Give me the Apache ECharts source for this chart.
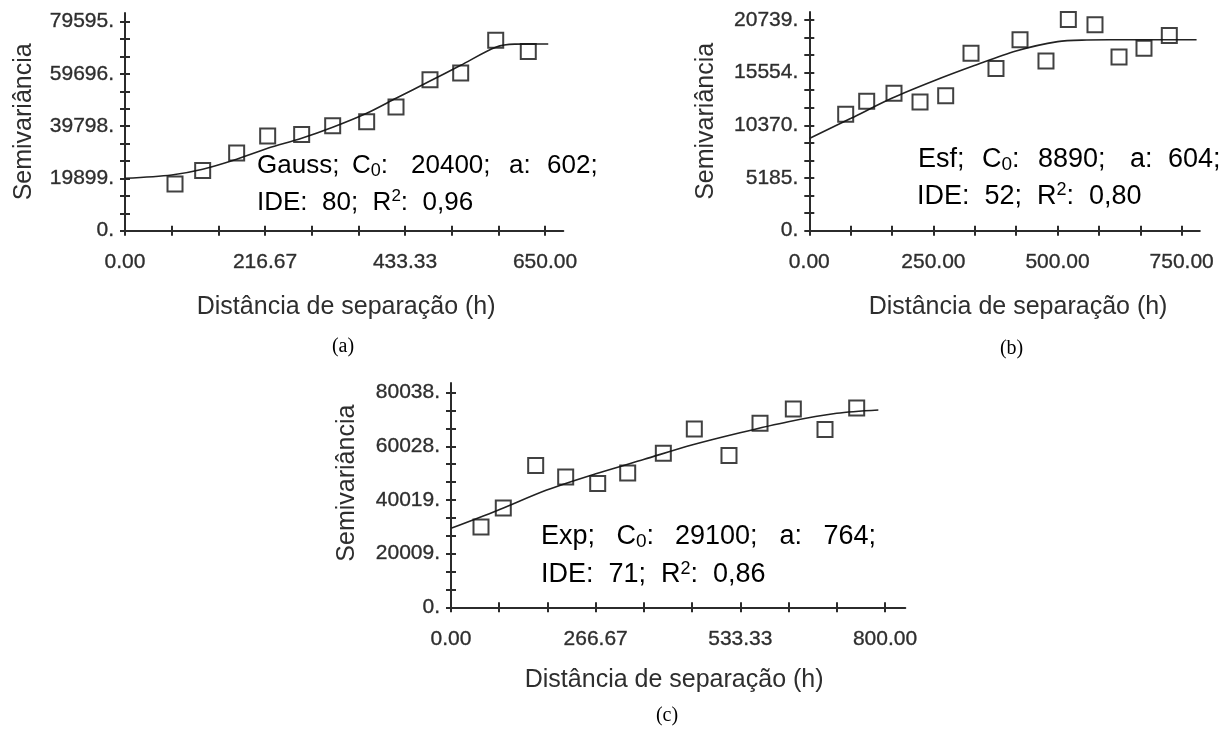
<!DOCTYPE html>
<html>
<head>
<meta charset="utf-8">
<script src="https://cdn.jsdelivr.net/npm/echarts@6/dist/echarts.min.js"></script>
<style>
html,body{margin:0;padding:0;background:#fff;}
#chart{width:1232px;height:731px;}
</style>
</head>
<body>
<div id="chart"></div>
<script>
// ---------- Data ----------
// Panel (a) Gauss
const hA = [77.4, 120.2, 172.8, 220.8, 273.4, 321.4, 374, 419.4, 472, 519.5, 573.7, 624.1];
const gA = [17800, 22950, 29600, 36100, 36600, 39950, 41500, 47150, 57500, 60100, 72500, 68200];
const curveAh = [0, 72.2, 120.2, 172.8, 220.8, 273.4, 321.4, 374, 419.4, 472, 519.5, 573.7, 603, 655];
const curveAg = [19956, 21212, 23383, 27192, 31381, 35189, 39378, 44710, 50420, 57000, 62990, 69850, 71050, 71100];
const xTicksA = [0, 216.667, 433.333, 650];
const xLabelsA = ['0.00', '216.67', '433.33', '650.00'];
const yTicksA = [0, 19898.75, 39797.5, 59696.25, 79595];
const yLabelsA = ['0.', '19899.', '39798.', '59696.', '79595.'];

// Panel (b) Esf
const hB = [73.3, 115.6, 170.6, 223, 274.7, 325.7, 376, 424.4, 476.7, 521.7, 575.4, 623.8, 674.1, 725.1];
const gB = [11450, 12740, 13520, 12660, 13290, 17460, 15970, 18790, 16700, 20800, 20280, 17100, 17960, 19220];
const curveBh = [0, 84, 166, 250, 332.4, 416.3, 500.3, 558.7, 604, 780];
const curveBg = [9080, 11060, 13030, 14730, 16250, 17690, 18610, 18770, 18790, 18790];
const xTicksB = [0, 250, 500, 750];
const xLabelsB = ['0.00', '250.00', '500.00', '750.00'];
const yTicksB = [0, 5184.75, 10369.5, 15554.25, 20739];
const yLabelsB = ['0.', '5185.', '10370.', '15554.', '20739.'];

// Panel (c) Exp
const hC = [55.3, 96.4, 156.1, 211.4, 270.4, 325.7, 391.4, 448.5, 512.4, 569.6, 631, 689.4, 747.8];
const gC = [29970, 37030, 52860, 48630, 46130, 50120, 57420, 66460, 56600, 68640, 73940, 66330, 74310];
const curveCh = [0, 84.2, 176.4, 265.4, 356.3, 443.7, 532.7, 621.8, 711, 787.7];
const curveCg = [29464, 36029, 43749, 49716, 55199, 60532, 65120, 69222, 72355, 73586];
const xTicksC = [0, 266.667, 533.333, 800];
const xLabelsC = ['0.00', '266.67', '533.33', '800.00'];
const yTicksC = [0, 20009.5, 40019, 60028.5, 80038];
const yLabelsC = ['0.', '20009.', '40019.', '60028.', '80038.'];

const xName = 'Distância de separação (h)';
const yName = 'Semivariância';

// ---------- Helpers ----------
const SANS = '"Liberation Sans", Arial, sans-serif';
const SERIF = '"Liberation Serif", "Times New Roman", serif';
const AX = '#2b2b2b';
const TXT = '#2e2e2e';

function zip(a, b) { return a.map((v, i) => [v, b[i]]); }
function withMinor(majors, div) {
  const out = [];
  for (let i = 0; i < majors.length; i++) {
    out.push(majors[i]);
    if (i < majors.length - 1) {
      const step = (majors[i + 1] - majors[i]) / div;
      for (let k = 1; k < div; k++) out.push(majors[i] + k * step);
    }
  }
  return out;
}
function labeler(ticks, labels) {
  return function (v) {
    let best = 0, bd = Infinity;
    ticks.forEach((t, i) => { const d = Math.abs(t - v); if (d < bd) { bd = d; best = i; } });
    return labels[best];
  };
}

const grids = [
  { left: 125, top: 13, width: 438.3, height: 217.7 },
  { left: 809.3, top: 12, width: 390.5, height: 218.7 },
  { left: 451, top: 383, width: 454.3, height: 224.3 }
];
const xMax = [678.3, 786.5, 837.4];
const yMax = [82908, 21526, 83656];
const xT = [xTicksA, xTicksB, xTicksC];
const xL = [xLabelsA, xLabelsB, xLabelsC];
const yT = [yTicksA, yTicksB, yTicksC];
const yL = [yLabelsA, yLabelsB, yLabelsC];
const xNameGap = [76, 76, 72.5];
const xNamePad = [[0, 0, 0, 4], [0, 0, 0, 27], [0, 8, 0, 0]];
const yNameGap = [101, 103, 104];
const yNamePad = [[0, 0, 0, 0], [0, 0, 0, 0], [0, 0, 0, 24]];

const xAxes = [], yAxes = [];
grids.forEach((g, i) => {
  const tickStyle = { color: AX, width: 2 };
  const labelStyle = { fontSize: 21, color: TXT, fontFamily: SANS, textBorderColor: '#555', textBorderWidth: 0.4 };
  const xAll = withMinor(xT[i], 3), yAll = withMinor(yT[i], 3);
  xAxes.push({
    type: 'value', gridIndex: i, min: 0, max: xMax[i], position: 'bottom',
    axisLine: { show: true, onZero: false, lineStyle: { color: AX, width: 2 } },
    axisTick: { show: true, length: 5, customValues: xAll, lineStyle: tickStyle },
    axisLabel: Object.assign({ customValues: xT[i], formatter: labeler(xT[i], xL[i]), margin: 21.5 }, labelStyle),
    splitLine: { show: false },
    name: xName, nameLocation: 'middle', nameGap: xNameGap[i],
    nameTextStyle: { fontSize: 25, color: TXT, fontFamily: SANS, verticalAlign: 'middle', padding: xNamePad[i] }
  });
  xAxes.push({
    type: 'value', gridIndex: i, min: 0, max: xMax[i], position: 'top', offset: -g.height,
    axisLine: { show: false, onZero: false },
    axisTick: { show: true, length: 5, customValues: xAll, lineStyle: tickStyle },
    axisLabel: { show: false }, splitLine: { show: false }
  });
  yAxes.push({
    type: 'value', gridIndex: i, min: 0, max: yMax[i], position: 'left',
    axisLine: { show: true, onZero: false, lineStyle: { color: AX, width: 2 } },
    axisTick: { show: true, length: 5, customValues: yAll, lineStyle: tickStyle },
    axisLabel: Object.assign({ customValues: yT[i], formatter: labeler(yT[i], yL[i]), margin: 11 }, labelStyle),
    splitLine: { show: false },
    name: yName, nameLocation: 'middle', nameGap: yNameGap[i],
    nameTextStyle: { fontSize: 25, color: TXT, fontFamily: SANS, verticalAlign: 'middle', padding: yNamePad[i] }
  });
  yAxes.push({
    type: 'value', gridIndex: i, min: 0, max: yMax[i], position: 'right', offset: -g.width,
    axisLine: { show: false, onZero: false },
    axisTick: { show: true, length: 5, customValues: yAll, lineStyle: tickStyle },
    axisLabel: { show: false }, splitLine: { show: false }
  });
});

function pointSeries(ai, h, g) {
  return {
    type: 'scatter', xAxisIndex: ai, yAxisIndex: ai, data: zip(h, g),
    symbol: 'rect', symbolSize: 15, z: 4,
    itemStyle: { color: 'rgba(255,255,255,0)', borderColor: '#111', borderWidth: 2 },
    emphasis: { disabled: true }
  };
}
function curveSeries(ai, h, g) {
  return {
    type: 'line', xAxisIndex: ai, yAxisIndex: ai, data: zip(h, g),
    smooth: 0.3, showSymbol: false, z: 3,
    lineStyle: { color: '#222', width: 1.6 }, emphasis: { disabled: true }
  };
}

// ---------- Annotations ----------
const RICH = (fs) => ({
  t: { fontSize: fs, fontFamily: SANS, fill: '#000', lineHeight: 30 },
  s: { fontSize: Math.round(fs * 0.7), fontFamily: SANS, fill: '#000', lineHeight: 18, verticalAlign: 'bottom' },
  p: { fontSize: Math.round(fs * 0.67), fontFamily: SANS, fill: '#000', lineHeight: 17, verticalAlign: 'top' }
});
function textEl(x, baseline, text, fs) {
  return { type: 'text', x: x, y: baseline - (15 + 0.35 * fs), z: 10,
    style: { text: text, rich: RICH(fs), verticalAlign: 'top', align: 'left' } };
}
function annotation(words, xs, b1, line2, x2, b2, fs) {
  const els = words.map((w, i) => textEl(xs[i], b1, w, fs));
  els.push(textEl(x2, b2, line2, fs));
  return els;
}
const graphics = [].concat(
  annotation(['{t|Gauss;}', '{t|C}{s|0}{t|:}', '{t|20400;}', '{t|a:}', '{t|602;}'],
    [257, 352, 411, 509, 547], 174.5, '{t|IDE:  80;  R}{p|2}{t|:  0,96}', 257, 211.7, 26),
  annotation(['{t|Esf;}', '{t|C}{s|0}{t|:}', '{t|8890;}', '{t|a:}', '{t|604;}'],
    [918, 982, 1038, 1130, 1168], 168.5, '{t|IDE:  52;  R}{p|2}{t|:  0,80}', 917, 205.5, 27),
  annotation(['{t|Exp;}', '{t|C}{s|0}{t|:}', '{t|29100;}', '{t|a:}', '{t|764;}'],
    [541, 616.5, 675, 779.5, 823.5], 545.5, '{t|IDE:  71;  R}{p|2}{t|:  0,86}', 541, 584, 27),
  [
    { type: 'text', x: 343, y: 347, style: { text: '(a)', font: '20px ' + SERIF, fill: '#000', align: 'center', verticalAlign: 'middle' } },
    { type: 'text', x: 1011.6, y: 349, style: { text: '(b)', font: '20px ' + SERIF, fill: '#000', align: 'center', verticalAlign: 'middle' } },
    { type: 'text', x: 667, y: 716, style: { text: '(c)', font: '20px ' + SERIF, fill: '#000', align: 'center', verticalAlign: 'middle' } }
  ]
);

const chart = echarts.init(document.getElementById('chart'), null, { renderer: 'canvas' });
chart.setOption({
  backgroundColor: '#fff',
  animation: false,
  grid: grids.map(g => Object.assign({ outerBoundsMode: 'none', containLabel: false }, g)),
  xAxis: xAxes,
  yAxis: yAxes,
  series: [
    curveSeries(0, curveAh, curveAg), pointSeries(0, hA, gA),
    curveSeries(2, curveBh, curveBg), pointSeries(2, hB, gB),
    curveSeries(4, curveCh, curveCg), pointSeries(4, hC, gC)
  ],
  graphic: graphics
});
</script>
</body>
</html>
